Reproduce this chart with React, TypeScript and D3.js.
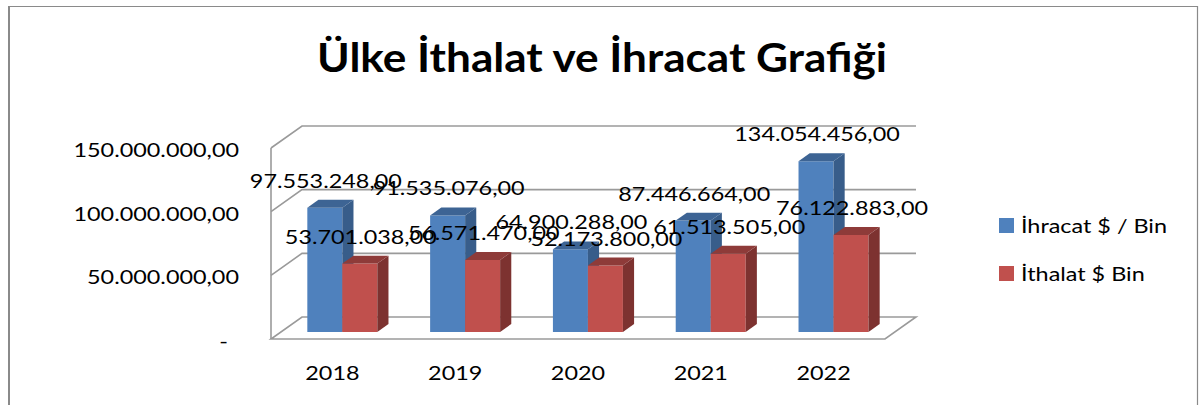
import React from 'react';
import * as d3 from 'd3';

const title = 'Ülke İthalat ve İhracat Grafiği';
const categories = ['2018', '2019', '2020', '2021', '2022'];
const seriesNames = ['İhracat $ / Bin', 'İthalat $ Bin'];
const ihracat = [97553248, 91535076, 64900288, 87446664, 134054456];
const ithalat = [53701038, 56571470, 52173800, 61513505, 76122883];
const yTicks = [0, 50000000, 100000000, 150000000];

const W = 1199;
const H = 405;
const FONT = 'Lato, "Open Sans", sans-serif';
const SX = 1.17;
const FS = 20;

const trLocale = d3.formatLocale({
  decimal: ',',
  thousands: '.',
  grouping: [3],
  currency: ['', ''],
});
const fmt = trLocale.format(',.2f');
const tickFmt = (v: number) => (v === 0 ? '-' : fmt(v));

const series = [
  { name: seriesNames[0], values: ihracat, front: '#4F81BD', side: '#385D8A', top: '#3D6494' },
  { name: seriesNames[1], values: ithalat, front: '#C0504D', side: '#7D3230', top: '#8E3B39' },
];

// 3D oblique layout
const FX0 = 271;
const FX1 = 885;
const DX = 31;
const DY = -22;
const T0 = 0.32;
const T1 = 0.68;

const x = d3.scaleBand<string>().domain(categories).range([FX0, FX1]);
const y = d3.scaleLinear().domain([0, 150000000]).range([339, 148]);
const barW = x.bandwidth() * 0.285;

const proj = (px: number, v: number, t: number): [number, number] => [px + DX * t, y(v) + DY * t];
const pts = (arr: [number, number][]) => arr.map((p) => p.join(',')).join(' ');

function STxt(props: {
  x: number;
  y: number;
  anchor?: string;
  size?: number;
  weight?: number | string;
  sx?: number;
  children: React.ReactNode;
  textLength?: number;
}) {
  const { anchor = 'start', size = FS, weight = 400, sx = SX } = props;
  return (
    <text
      transform={`translate(${props.x},${props.y}) scale(${sx},1)`}
      textAnchor={anchor}
      fontFamily={FONT}
      fontSize={size}
      fontWeight={weight}
      fill="#000"
    >
      {props.children}
    </text>
  );
}

export default function App() {
  const gridColor = '#9a9a9a';
  const bars: React.ReactNode[] = [];
  const labels: React.ReactNode[] = [];
  categories.forEach((c, i) => {
    const cx = (x(c) as number) + x.bandwidth() / 2;
    series.forEach((s, j) => {
      const v = s.values[i];
      const bx = cx - barW + j * barW;
      const front = pts([proj(bx, 0, T0), proj(bx + barW, 0, T0), proj(bx + barW, v, T0), proj(bx, v, T0)]);
      const top = pts([proj(bx, v, T0), proj(bx + barW, v, T0), proj(bx + barW, v, T1), proj(bx, v, T1)]);
      const side = pts([proj(bx + barW, 0, T0), proj(bx + barW, 0, T1), proj(bx + barW, v, T1), proj(bx + barW, v, T0)]);
      bars.push(
        <g key={`${c}-${j}`}>
          <polygon points={front} fill={s.front} />
          <polygon points={side} fill={s.side} />
          <polygon points={top} fill={s.top} />
        </g>
      );
      const [lx, ly] = proj(bx + barW / 2, v, T0);
      labels.push(
        <STxt key={`l-${c}-${j}`} x={lx + 1} y={ly - 20} anchor="middle">
          {fmt(v)}
        </STxt>
      );
    });
  });

  return (
    <svg
      width={W}
      height={H}
      viewBox={`0 0 ${W} ${H}`}
      style={{ position: 'absolute', left: 0, top: 0, background: '#fff' }}
    >
      <rect x={0} y={0} width={W} height={H} fill="#fff" />
      {/* chart border */}
      <line x1={9} y1={6} x2={9} y2={H} stroke="#8a8a8a" strokeWidth={2} />
      <line x1={8} y1={6.5} x2={1198} y2={6.5} stroke="#8a8a8a" strokeWidth={1.2} />
      <line x1={1197.5} y1={6} x2={1197.5} y2={H} stroke="#8a8a8a" strokeWidth={1.2} />

      {/* title */}
      <text
        x={602}
        y={72}
        textAnchor="middle"
        fontFamily={FONT}
        fontSize={40}
        fontWeight={700}
        textLength={570}
        lengthAdjust="spacingAndGlyphs"
      >
        {title}
      </text>

      {/* walls & gridlines */}
      <g fill="none" stroke={gridColor} strokeWidth={1.6}>
        {yTicks
          .filter((v) => v !== 0)
          .map((v) => (
            <polyline key={v} points={pts([proj(FX0, v, 0), proj(FX0, v, 1), proj(FX1, v, 1)])} />
          ))}
        <polygon points={pts([proj(FX0, 0, 0), proj(FX1, 0, 0), proj(FX1, 0, 1), proj(FX0, 0, 1)])} />
        <line
          x1={proj(FX0, 0, 0)[0]}
          y1={proj(FX0, 0, 0)[1]}
          x2={proj(FX0, yTicks[yTicks.length - 1], 0)[0]}
          y2={proj(FX0, yTicks[yTicks.length - 1], 0)[1]}
        />
      </g>

      {/* y axis labels */}
      {yTicks.map((v) => (
        <STxt key={`yt-${v}`} x={v === 0 ? 228 : 239} y={y(v) + 9} anchor="end">
          {tickFmt(v)}
        </STxt>
      ))}

      {/* x axis labels */}
      {categories.map((c) => (
        <STxt key={`xt-${c}`} x={(x(c) as number) + x.bandwidth() / 2} y={380} anchor="middle">
          {c}
        </STxt>
      ))}

      {bars}
      {labels}

      {/* legend */}
      {series.map((s, j) => (
        <g key={`lg-${j}`}>
          <rect x={999} y={218 + j * 48} width={15} height={15} fill={s.front} />
          <STxt x={1021} y={233 + j * 48}>
            {s.name}
          </STxt>
        </g>
      ))}
    </svg>
  );
}
